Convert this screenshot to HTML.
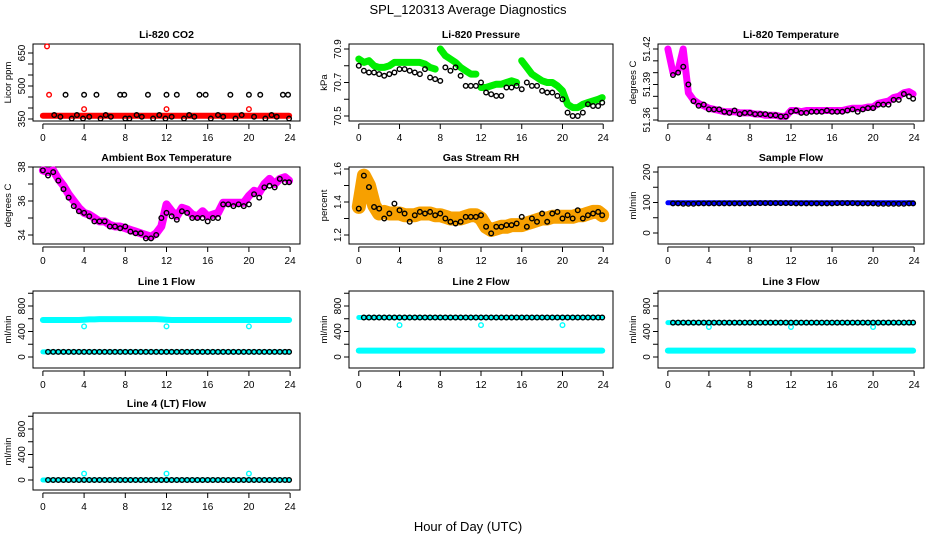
<!DOCTYPE html>
<html><head><meta charset="utf-8"><style>
html,body{margin:0;padding:0;background:#fff;}
svg{display:block;font-family:"Liberation Sans",Arial,sans-serif;}
</style></head><body>
<svg id="chart" width="936" height="540" viewBox="0 0 936 540" xmlns="http://www.w3.org/2000/svg">
<text x="468" y="14" text-anchor="middle" font-size="13">SPL_120313  Average Diagnostics</text>
<text x="468" y="531" text-anchor="middle" font-size="13">Hour of Day (UTC)</text>
</svg>
<script>
// ---- shared hours ----
const HRS = [0,0.5,1,1.5,2,2.5,3,3.5,4,4.5,5,5.5,6,6.5,7,7.5,8,8.5,9,9.5,10,10.5,11,11.5,12,12.5,13,13.5,14,14.5,15,15.5,16,16.5,17,17.5,18,18.5,19,19.5,20,20.5,21,21.5,22,22.5,23,23.5,23.9];
const X_TICKS = [0,4,8,12,16,20,24];

// ---- CO2 ----
const co2Band = [365,365,365,365,365,365,365,365,365,365,365,365,365,365,365,365,365,365,365,365,365,365,365,365,365,365,365,365,365,365,365,365,365,365,365,365,365,365,365,365,365,365,365,365,365,365,365,365,365];
const co2RedHrs = [0.4,0.6,4,12,20];
const co2RedVals = [680,460,395,395,395];
const co2BlkHrs = [1.1,1.7,2.2,2.8,3.3,3.9,4,4.5,5.2,5.6,6.1,6.6,7.5,7.9,8,8.4,9.1,9.6,10.2,10.7,11.3,11.9,12,12.5,13,13.7,14.2,14.7,15.2,15.8,16.3,17,17.5,18.2,18.7,19.3,20,20.5,21.1,21.6,22.2,22.7,23.3,23.8,23.9];
const co2BlkVals = [368,360,460,352,368,352,460,360,460,352,368,360,460,460,352,352,368,360,460,352,368,352,460,360,460,352,368,360,460,460,352,368,360,460,352,368,460,360,460,352,368,360,460,460,352];
const co2Ticks = [350,400,450,500,550,600,650];
const co2Labels = ["350","","","500","","","650"];

// ---- Pressure ----
const presBand = [70.84,70.82,70.83,70.80,70.79,70.79,70.80,70.82,70.82,70.82,70.82,70.82,70.82,70.81,70.79,70.78,70.90,70.86,70.84,70.82,70.79,70.77,70.75,70.75,70.67,70.67,70.68,70.69,70.69,70.70,70.71,70.70,70.83,70.79,70.75,70.73,70.71,70.70,70.70,70.68,70.65,70.57,70.55,70.55,70.57,70.58,70.59,70.60,70.61];
const presBlk = [70.80,70.77,70.76,70.76,70.75,70.74,70.75,70.76,70.78,70.78,70.77,70.76,70.75,70.78,70.73,70.72,70.71,70.79,70.77,70.79,70.74,70.68,70.68,70.68,70.70,70.64,70.63,70.62,70.62,70.67,70.67,70.68,70.66,70.70,70.68,70.68,70.65,70.64,70.64,70.62,70.60,70.52,70.50,70.50,70.52,70.57,70.56,70.56,70.58];
const presTicks = [70.5,70.6,70.7,70.8,70.9];
const presLabels = ["70.5","","70.7","","70.9"];

// ---- Li-820 Temperature ----
const ltBand = [51.420,51.400,51.402,51.420,51.383,51.377,51.374,51.372,51.370,51.369,51.368,51.367,51.367,51.367,51.366,51.366,51.366,51.365,51.365,51.364,51.364,51.364,51.363,51.363,51.368,51.368,51.367,51.368,51.368,51.368,51.368,51.368,51.368,51.368,51.368,51.369,51.370,51.370,51.370,51.371,51.371,51.374,51.375,51.376,51.379,51.380,51.383,51.384,51.382];
const ltBlk = [51.410,51.398,51.400,51.405,51.390,51.376,51.372,51.373,51.369,51.369,51.369,51.367,51.366,51.368,51.365,51.366,51.366,51.365,51.365,51.365,51.364,51.364,51.363,51.363,51.367,51.368,51.366,51.366,51.367,51.367,51.367,51.368,51.367,51.367,51.367,51.368,51.369,51.367,51.369,51.370,51.370,51.373,51.373,51.373,51.377,51.377,51.382,51.380,51.378];
const ltTicks = [51.36,51.37,51.38,51.39,51.40,51.41,51.42];
const ltLabels = ["51.36","","","51.39","","","51.42"];

// ---- Ambient box temperature ----
const abBand = [37.8,37.7,37.8,37.3,36.9,36.4,36.0,35.6,35.3,35.2,35.0,34.8,34.8,34.6,34.5,34.5,34.4,34.3,34.2,34.1,34.0,33.9,34.1,34.5,35.8,35.4,35.1,35.6,35.5,35.2,35.1,35.4,35.1,35.2,35.3,35.9,35.9,35.9,35.9,35.9,36.3,36.6,36.5,37.0,37.3,37.0,37.3,37.4,37.2];
const abBlk = [37.8,37.5,37.7,37.2,36.7,36.2,35.7,35.4,35.3,35.1,34.8,34.8,34.8,34.5,34.5,34.4,34.5,34.2,34.1,34.1,33.8,33.8,34.0,35.0,35.3,35.1,34.9,35.4,35.3,35.0,35.0,35.0,34.8,35.0,35.0,35.8,35.8,35.7,35.8,35.7,35.8,36.4,36.2,36.8,36.9,36.8,37.3,37.1,37.1];
const abTicks = [34,35,36,37,38];
const abLabels = ["34","","36","","38"];

// ---- Gas stream RH ----
const rhBand = [1.37,1.56,1.50,1.38,1.33,1.34,1.33,1.33,1.33,1.32,1.32,1.32,1.33,1.33,1.33,1.32,1.32,1.31,1.30,1.30,1.30,1.31,1.32,1.32,1.30,1.25,1.23,1.24,1.25,1.25,1.26,1.26,1.26,1.27,1.28,1.29,1.30,1.30,1.31,1.31,1.31,1.31,1.31,1.32,1.32,1.33,1.34,1.34,1.32];
const rhBlk = [1.36,1.56,1.49,1.37,1.36,1.30,1.33,1.39,1.35,1.33,1.28,1.32,1.34,1.33,1.34,1.32,1.33,1.30,1.28,1.27,1.28,1.31,1.31,1.31,1.32,1.25,1.21,1.25,1.25,1.26,1.26,1.27,1.31,1.25,1.30,1.28,1.33,1.28,1.33,1.34,1.30,1.32,1.30,1.35,1.30,1.32,1.33,1.34,1.32];
const rhTicks = [1.2,1.3,1.4,1.5,1.6];
const rhLabels = ["1.2","","1.4","","1.6"];

// ---- Sample flow ----
const sfBand = [99,99,99,99,99,99,99,99,99,99,99,99,99,99,99,99,99,99,99,99,99,99,99,99,99,99,99,99,99,99,99,99,99,99,99,99,99,99,99,99,99,99,99,99,99,99,99,99,99];
const sfBlk = [97,97,97,96,96,96,97,97,97,97,97,97,97,97,97,97,97,98,98,98,98,98,98,98,98,97,97,97,97,97,97,97,97,98,98,98,98,97,97,97,97,96,96,96,96,96,96,97,97];
const sfTicks = [0,50,100,150,200];
const sfLabels = ["0","","100","","200"];

// ---- Line flows ----
const flowTicks = [0,200,400,600,800,1000];
const flowLabels = ["0","","400","","800",""];
const outHrs = [4,12,20];
const l1Cyan = [580,580,580,580,580,580,580,580,585,590,590,595,595,595,595,595,595,595,595,595,595,595,595,590,585,580,580,580,580,580,580,580,580,580,580,580,580,580,580,580,580,580,580,580,580,580,580,580,580];
const l1Blk = [80,80,80,80,80,80,80,80,80,80,80,80,80,80,80,80,80,80,80,80,80,80,80,80,80,80,80,80,80,80,80,80,80,80,80,80,80,80,80,80,80,80,80,80,80,80,80,80,80];
const l1Out = [480,480,480];
const l2Blk = [620,620,620,620,620,620,620,620,620,620,620,620,620,620,620,620,620,620,620,620,620,620,620,620,620,620,620,620,620,620,620,620,620,620,620,620,620,620,620,620,620,620,620,620,620,620,620,620,620];
const l2Cyan = [100,100,100,100,100,100,100,100,100,100,100,100,100,100,100,100,100,100,100,100,100,100,100,100,100,100,100,100,100,100,100,100,100,100,100,100,100,100,100,100,100,100,100,100,100,100,100,100,100];
const l2Out = [500,500,500];
const l3Blk = [540,540,540,540,540,540,540,540,540,540,540,540,540,540,540,540,540,540,540,540,540,540,540,540,540,540,540,540,540,540,540,540,540,540,540,540,540,540,540,540,540,540,540,540,540,540,540,540,540];
const l3Cyan = [100,100,100,100,100,100,100,100,100,100,100,100,100,100,100,100,100,100,100,100,100,100,100,100,100,100,100,100,100,100,100,100,100,100,100,100,100,100,100,100,100,100,100,100,100,100,100,100,100];
const l3Out = [470,470,470];
const l4Blk = [0,0,0,0,0,0,0,0,0,0,0,0,0,0,0,0,0,0,0,0,0,0,0,0,0,0,0,0,0,0,0,0,0,0,0,0,0,0,0,0,0,0,0,0,0,0,0,0,0];
const l4Out = [100,100,100];

const NS = "http://www.w3.org/2000/svg";
const svg = document.getElementById('chart');
const COLS = [[33,300],[349,613],[658,924]];
const ROWS = [44,167,291,413];
const BH = 77;

function mk(tag, attrs, parent){
  const e = document.createElementNS(NS, tag);
  for (const k in attrs) e.setAttribute(k, attrs[k]);
  (parent||svg).appendChild(e);
  return e;
}

function panel(col,row,title,ylab,name,dom){
  const [L,R] = COLS[col], T = ROWS[row], B = T+BH;
  const g = mk('g',{});
  
  
  const xs = h => L + (R-L)*(h+0.96)/25.92;
  const ys = v => B - 3 - (B-T-6)*(v-dom[0])/(dom[1]-dom[0]);
  const box = mk('rect',{x:L,y:T,width:R-L,height:BH,fill:'none',stroke:'#000','stroke-width':1},g);
  
  
  const t = mk('text',{x:(L+R)/2,y:T-6,'text-anchor':'middle','font-size':10.5,'font-weight':'bold'},g);
  t.textContent = title;
  
  
  const yt = mk('text',{transform:`translate(${L-22},${(T+B)/2}) rotate(-90)`,'text-anchor':'middle','font-size':9.5},g);
  yt.textContent = ylab;
  
  
  // x axis
  const xa = mk('g',{},g);
  
  
  mk('line',{x1:xs(0),x2:xs(24),y1:B+3,y2:B+3,stroke:'#000'},xa);
  X_TICKS.forEach(h=>{
    mk('line',{x1:xs(h),x2:xs(h),y1:B+3,y2:B+8,stroke:'#000'},xa);
    const tx = mk('text',{x:xs(h),y:B+20,'text-anchor':'middle','font-size':10},xa);
    tx.textContent = h;
  });
  return {g,xs,ys,L,R,T,B};
}
function yaxis(p,ticks,labels,name){
  const ya = mk('g',{},p.g);
  
  
  const lo = Math.min(p.B, p.ys(ticks[0])), hi = Math.max(p.T, p.ys(ticks[ticks.length-1]));
  mk('line',{x1:p.L,x2:p.L,y1:p.ys(ticks[0]),y2:p.ys(ticks[ticks.length-1]),stroke:'#000'},ya);
  ticks.forEach((v,i)=>{
    const y = p.ys(v);
    mk('line',{x1:p.L-5,x2:p.L,y1:y,y2:y,stroke:'#000'},ya);
    if(labels[i]){
      const tx = mk('text',{transform:`translate(${p.L-8},${y}) rotate(-90)`,'text-anchor':'middle','font-size':10},ya);
      tx.textContent = labels[i];
    }
  });
}
function band(p,hrs,vals,color,w,name){
  const pts = hrs.map((h,i)=>p.xs(h).toFixed(1)+','+p.ys(vals[i]).toFixed(1)).join(' ');
  const pl = mk('polyline',{points:pts,fill:'none',stroke:color,'stroke-width':w,'stroke-linejoin':'round','stroke-linecap':'round'},p.g);
  
  
}
function pts(p,hrs,vals,color,name,r){
  const g = mk('g',{},p.g);
  
  
  hrs.forEach((h,i)=>{
    mk('circle',{cx:p.xs(h),cy:p.ys(vals[i]),r:r||2.3,fill:'none',stroke:color,'stroke-width':1.4},g);
  });
}
const BLK_HRS = HRS.slice(1);
function skip1(a){return a.slice(1);}

// CO2
let p = panel(0,0,'Li-820 CO2','Licor ppm','co2',[350,700]);
p.ys = v => 119 - (v-350)*66/300;
yaxis(p,co2Ticks,co2Labels,'co2');
band(p,HRS,co2Band,'#ff0000',6,'co2-series-band');
pts(p,co2RedHrs,co2RedVals,'#ff0000','co2-red-outliers');
pts(p,co2BlkHrs,co2BlkVals,'#000','co2-hourly-points');

// Pressure
p = panel(1,0,'Li-820 Pressure','kPa','pressure',[70.5,70.9]);
p.ys = v => 116 - (v-70.5)*67/0.4;
yaxis(p,presTicks,presLabels,'pressure');
band(p,HRS.slice(0,16),presBand.slice(0,16),'#00ee00',7,'pressure-band-seg1');
band(p,HRS.slice(16,24),presBand.slice(16,24),'#00ee00',7,'pressure-band-seg2');
band(p,HRS.slice(24,32),presBand.slice(24,32),'#00ee00',7,'pressure-band-seg3');
band(p,HRS.slice(32),presBand.slice(32),'#00ee00',7,'pressure-band-seg4');
pts(p,HRS,presBlk,'#000','pressure-hourly-points');

// Li-820 temperature
p = panel(2,0,'Li-820 Temperature','degrees C','li-temp',[51.36,51.42]);
p.ys = v => 120 - (v-51.36)*71/0.06;
yaxis(p,ltTicks,ltLabels,'li-temp');
band(p,HRS,ltBand,'#ff00ff',7,'li-temp-band');
pts(p,skip1(HRS),skip1(ltBlk),'#000','li-temp-hourly-points');

// Ambient
p = panel(0,1,'Ambient Box Temperature','degrees C','ambient',[34,38]);
p.ys = v => 235 - (v-34)*68/4;
yaxis(p,abTicks,abLabels,'ambient');
band(p,HRS,abBand,'#ff00ff',8,'ambient-band');
pts(p,HRS,abBlk,'#000','ambient-hourly-points');

// RH
p = panel(1,1,'Gas Stream RH','percent','rh',[1.2,1.6]);
p.ys = v => 235 - (v-1.2)*66/0.4;
yaxis(p,rhTicks,rhLabels,'rh');
band(p,HRS,rhBand,'#f7a000',14,'rh-band');
pts(p,HRS,rhBlk,'#000','rh-hourly-points');

// Sample flow
p = panel(2,1,'Sample Flow','ml/min','sample-flow',[0,200]);
p.ys = v => 233 - v*61/200;
yaxis(p,sfTicks,sfLabels,'sample-flow');
band(p,HRS,sfBand,'#0000ff',5,'sample-flow-band');
pts(p,skip1(HRS),skip1(sfBlk),'#000','sample-flow-hourly-points');

// Line flows
function flowY(row){ const z = row===2?357:480; return v => z - v*51/800; }
p = panel(0,2,'Line 1 Flow','ml/min','line1-flow',[0,800]);
p.ys = flowY(2);
yaxis(p,flowTicks,flowLabels,'line1-flow');
band(p,HRS,l1Cyan,'#00ffff',6,'line1-cyan-band');
band(p,HRS,l1Blk,'#00ffff',5,'line1-cyan-low-band');
pts(p,outHrs,l1Out,'#00ffff','line1-outliers');
pts(p,skip1(HRS),skip1(l1Blk),'#000','line1-hourly-points');

p = panel(1,2,'Line 2 Flow','ml/min','line2-flow',[0,800]);
p.ys = flowY(2);
yaxis(p,flowTicks,flowLabels,'line2-flow');
band(p,HRS,l2Cyan,'#00ffff',6,'line2-cyan-band');
band(p,HRS,l2Blk,'#00ffff',5,'line2-cyan-high-band');
pts(p,outHrs,l2Out,'#00ffff','line2-outliers');
pts(p,skip1(HRS),skip1(l2Blk),'#000','line2-hourly-points');

p = panel(2,2,'Line 3 Flow','ml/min','line3-flow',[0,800]);
p.ys = flowY(2);
yaxis(p,flowTicks,flowLabels,'line3-flow');
band(p,HRS,l3Cyan,'#00ffff',6,'line3-cyan-band');
band(p,HRS,l3Blk,'#00ffff',5,'line3-cyan-high-band');
pts(p,outHrs,l3Out,'#00ffff','line3-outliers');
pts(p,skip1(HRS),skip1(l3Blk),'#000','line3-hourly-points');

p = panel(0,3,'Line 4 (LT) Flow','ml/min','line4-flow',[0,800]);
p.ys = flowY(3);
yaxis(p,flowTicks,flowLabels,'line4-flow');
band(p,HRS,l4Blk,'#00ffff',5,'line4-cyan-band');
pts(p,outHrs,l4Out,'#00ffff','line4-outliers');
pts(p,skip1(HRS),skip1(l4Blk),'#000','line4-hourly-points');
</script>
</body></html>
